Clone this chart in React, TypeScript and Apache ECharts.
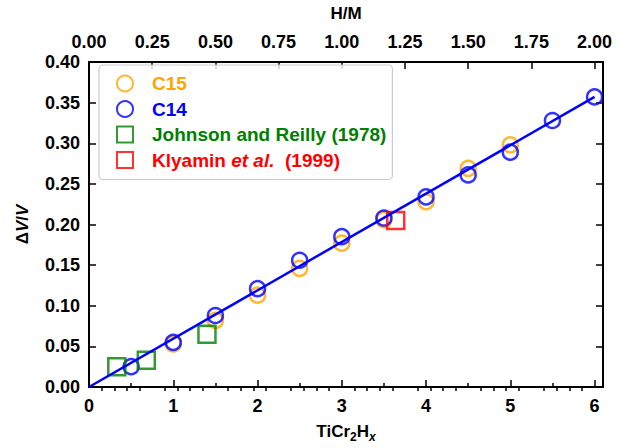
import React, { useEffect, useRef } from "react";
import * as echarts from "echarts";

// ---- data ----
const c15X = [1, 1.5, 2, 2.5, 3, 3.5, 4, 4.5, 5];
const c15Y = [0.053, 0.082, 0.113, 0.146, 0.177, 0.206, 0.228, 0.269, 0.298];
const c14X = [0.5, 1, 1.5, 2, 2.5, 3, 3.5, 4, 4.5, 5, 5.5, 6];
const c14Y = [0.025, 0.055, 0.088, 0.121, 0.156, 0.185, 0.208, 0.234, 0.261, 0.289, 0.328, 0.357];
const johnsonX = [0.33, 0.68, 1.4];
const johnsonY = [0.025, 0.033, 0.065];
const klyaminX = [3.64];
const klyaminY = [0.205];
const fitX = [0, 6];
const fitY = [0, 0.357];

const bottomTicks = [0, 1, 2, 3, 4, 5, 6];
const bottomMinorTicks = [0.5, 1.5, 2.5, 3.5, 4.5, 5.5];
const topTicks = [0, 0.25, 0.5, 0.75, 1.0, 1.25, 1.5, 1.75, 2.0];
const topMinorTicks = [
  0.05, 0.1, 0.15, 0.2, 0.3, 0.35, 0.4, 0.45, 0.55, 0.6, 0.65, 0.7, 0.8, 0.85, 0.9, 0.95,
  1.05, 1.1, 1.15, 1.2, 1.3, 1.35, 1.4, 1.45, 1.55, 1.6, 1.65, 1.7, 1.8, 1.85, 1.9, 1.95,
];
const xMax = 6.1;
const yMin = 0;
const yMax = 0.4;
const yInterval = 0.05;

const names = {
  c15: "C15",
  c14: "C14",
  johnson: "Johnson and Reilly (1978)",
  klyamin: "Klyamin et al. (1999)",
};

const FONT = "'Liberation Sans', Arial, Helvetica, sans-serif";
const ORANGE = "#FFA500";
const BLUE = "#0000FF";
const GREEN = "#008000";
const RED = "#FF0000";

const zip = (xs: number[], ys: number[]) => xs.map((x, i) => [x, ys[i]]);

export default function App() {
  const ref = useRef<HTMLDivElement>(null);
  useEffect(() => {
    if (!ref.current) return;
    const chart = echarts.init(ref.current, null, { renderer: "svg" });
    const tickText = { fontFamily: FONT, fontWeight: "bold" as const, fontSize: 18, color: "#000" };
    const nameText = { fontFamily: FONT, fontWeight: "bold" as const, fontSize: 17, color: "#000" };
    const legText = { fontFamily: FONT, fontWeight: "bold" as const, fontSize: 19, color: "#000" };
    const axisLine = { show: true, onZero: false, lineStyle: { color: "#000", width: 2 } };
    const hiddenLine = { show: false };
    const grid = { left: 89, right: 33, top: 56, bottom: 61 };

    const option: any = {
      animation: false,
      backgroundColor: "#fff",
      grid,
      xAxis: [
        {
          type: "value",
          position: "bottom",
          min: 0,
          max: xMax,
          axisLine,
          splitLine: { show: false },
          axisTick: { show: true, inside: true, length: 7, lineStyle: { color: "#000", width: 1.5 }, customValues: bottomTicks },
          axisLabel: { ...tickText, margin: 10, customValues: bottomTicks, formatter: (v: number) => String(v) },
          name: "{n|TiCr}{s|2}{n|H}{si|x}",
          nameLocation: "middle",
          nameGap: 32,
          nameTextStyle: {
            ...nameText,
            rich: {
              n: { ...nameText, lineHeight: 24, verticalAlign: "middle" },
              s: { ...nameText, fontSize: 12, lineHeight: 24, verticalAlign: "bottom" },
              si: { ...nameText, fontSize: 12, fontStyle: "italic", lineHeight: 24, verticalAlign: "bottom" },
            },
          },
        },
        {
          type: "value",
          position: "top",
          min: 0,
          max: xMax / 3,
          axisLine,
          splitLine: { show: false },
          axisTick: { show: true, inside: true, length: 7, lineStyle: { color: "#000", width: 1.5 }, customValues: topTicks },
          axisLabel: { ...tickText, margin: 11, customValues: topTicks, formatter: (v: number) => v.toFixed(2) },
          name: "H/M",
          nameLocation: "middle",
          nameGap: 40,
          nameTextStyle: { ...nameText },
        },
        {
          type: "value",
          position: "bottom",
          min: 0,
          max: xMax,
          axisLine: hiddenLine,
          splitLine: { show: false },
          axisTick: { show: true, inside: true, length: 4, lineStyle: { color: "#000", width: 1.5 }, customValues: bottomMinorTicks },
          axisLabel: { show: false },
        },
        {
          type: "value",
          position: "top",
          min: 0,
          max: xMax / 3,
          axisLine: hiddenLine,
          splitLine: { show: false },
          axisTick: { show: true, inside: true, length: 4, lineStyle: { color: "#000", width: 1.5 }, customValues: topMinorTicks },
          axisLabel: { show: false },
        },
      ],
      yAxis: [
        {
          type: "value",
          position: "left",
          min: yMin,
          max: yMax,
          interval: yInterval,
          axisLine,
          splitLine: { show: false },
          axisTick: { show: true, inside: true, length: 7, lineStyle: { color: "#000", width: 1.5 } },
          axisLabel: { ...tickText, margin: 9, formatter: (v: number) => v.toFixed(2) },
          name: "{n|Δ}{i|V}{n|/}{i|V}",
          nameLocation: "middle",
          nameGap: 58,
          nameTextStyle: {
            ...nameText,
            rich: {
              n: { ...nameText },
              i: { ...nameText, fontStyle: "italic" },
            },
          },
        },
        {
          type: "value",
          position: "right",
          min: yMin,
          max: yMax,
          interval: yInterval,
          axisLine,
          splitLine: { show: false },
          axisTick: { show: true, inside: true, length: 7, lineStyle: { color: "#000", width: 1.5 } },
          axisLabel: { show: false },
        },
      ],
      legend: {
        orient: "vertical",
        left: 99,
        top: 65,
        itemWidth: 16,
        itemHeight: 16,
        itemGap: 6.5,
        padding: [9, 6, 10, 17],
        backgroundColor: "rgba(255,255,255,0.8)",
        borderColor: "#cccccc",
        borderWidth: 1.2,
        borderRadius: 4,
        data: [names.c15, names.c14, names.johnson, names.klyamin],
        formatter: (name: string) => {
          if (name === names.c15) return "{o|C15}";
          if (name === names.c14) return "{b|C14}";
          if (name === names.johnson) return "{g|Johnson and Reilly (1978)}";
          return "{r|Klyamin }{ri|et al.}{r2|  (1999)}";
        },
        textStyle: {
          ...legText,
          rich: {
            o: { ...legText, color: ORANGE, padding: [0, 0, 0, 14] },
            b: { ...legText, color: BLUE, padding: [0, 0, 0, 14] },
            g: { ...legText, color: GREEN, padding: [0, 0, 0, 14] },
            r: { ...legText, color: RED, padding: [0, 0, 0, 14], lineHeight: 30 },
            ri: { ...legText, color: RED, fontStyle: "italic", lineHeight: 30 },
            r2: { ...legText, color: RED, lineHeight: 30 },
          },
        },
      },
      series: [
        {
          name: names.c15,
          type: "scatter",
          symbol: "circle",
          symbolSize: 15,
          itemStyle: { color: "rgba(0,0,0,0)", borderColor: ORANGE, borderWidth: 2.5 },
          data: zip(c15X, c15Y),
          z: 2,
        },
        {
          name: names.c14,
          type: "scatter",
          symbol: "circle",
          symbolSize: 15,
          itemStyle: { color: "rgba(0,0,0,0)", borderColor: BLUE, borderWidth: 2.5 },
          data: zip(c14X, c14Y),
          z: 3,
        },
        {
          name: names.johnson,
          type: "scatter",
          symbol: "rect",
          symbolSize: 17,
          itemStyle: { color: "rgba(0,0,0,0)", borderColor: GREEN, borderWidth: 2.5 },
          data: zip(johnsonX, johnsonY),
          z: 3,
        },
        {
          name: names.klyamin,
          type: "scatter",
          symbol: "rect",
          symbolSize: 17,
          itemStyle: { color: "rgba(0,0,0,0)", borderColor: RED, borderWidth: 2.5 },
          data: zip(klyaminX, klyaminY),
          z: 3,
        },
        {
          name: "fit",
          type: "line",
          showSymbol: false,
          symbol: "none",
          lineStyle: { color: BLUE, width: 2.5 },
          data: zip(fitX, fitY),
          z: 4,
        },
      ],
    };
    chart.setOption(option);
    return () => chart.dispose();
  }, []);
  return (
    <div
      ref={ref}
      style={{ position: "fixed", left: 0, top: 0, width: 636, height: 448 }}
    />
  );
}
